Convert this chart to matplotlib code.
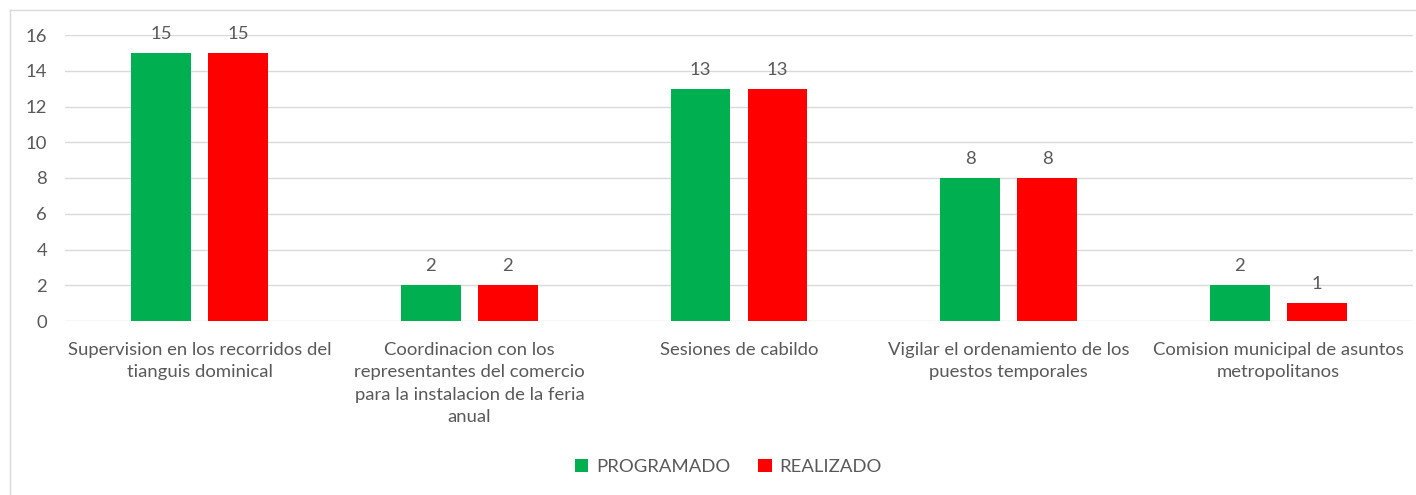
import numpy as np
import matplotlib.pyplot as plt
from matplotlib.lines import Line2D

# chart data
categories = [
    "Supervision en los recorridos del\ntianguis dominical",
    "Coordinacion con los\nrepresentantes del comercio\npara la instalacion de la feria\nanual",
    "Sesiones de cabildo",
    "Vigilar el ordenamiento de los\npuestos temporales",
    "Comision municipal de asuntos\nmetropolitanos",
]
programado = [15, 2, 13, 8, 2]
realizado = [15, 2, 13, 8, 1]
series_names = ["PROGRAMADO", "REALIZADO"]
colors = ["#00B050", "#FF0000"]
yticks = [0, 2, 4, 6, 8, 10, 12, 14, 16]

text_color = "#595959"
fs = 13.3
plt.rcParams['font.family'] = ['Lato', 'DejaVu Sans']

fig = plt.figure(figsize=(14.16, 4.95), dpi=100)
ax = fig.add_axes([65 / 1416, 1 - 321 / 495, (1413 - 65) / 1416, (321 - 35) / 495])

x = np.arange(len(categories))
width = 0.222
offset = 0.143
b1 = ax.bar(x - offset, programado, width, color=colors[0], label=series_names[0], zorder=3)
b2 = ax.bar(x + offset, realizado, width, color=colors[1], label=series_names[1], zorder=3)
ax.bar_label(b1, padding=8, fontsize=fs, color=text_color)
ax.bar_label(b2, padding=8, fontsize=fs, color=text_color)

ax.set_xlim(-0.5, len(categories) - 0.5)
ax.set_ylim(0, 16)
ax.set_yticks(yticks)
ax.set_xticks(x)
ax.set_xticklabels(categories, fontsize=fs, color=text_color, linespacing=1.5)
ax.tick_params(axis='y', labelsize=fs, labelcolor=text_color, length=0, pad=13)
ax.tick_params(axis='x', length=0, pad=15)
ax.grid(axis='y', color="#D9D9D9", linewidth=1, zorder=0)
for s in ax.spines.values():
    s.set_visible(False)

# outer chart border (top and left visible)
fig.add_artist(Line2D([10 / 1416, 1], [1 - 10 / 495, 1 - 10 / 495], color="#D9D9D9", lw=1))
fig.add_artist(Line2D([10 / 1416, 10 / 1416], [0, 1 - 10 / 495], color="#D9D9D9", lw=1))

fig.legend(loc='center', bbox_to_anchor=(728 / 1416, 1 - 467 / 495), ncol=2,
           frameon=False, fontsize=fs, labelcolor=text_color,
           handlelength=0.75, handleheight=0.75, handletextpad=0.4, columnspacing=1.5)

fig.savefig("out.png", dpi=100)
